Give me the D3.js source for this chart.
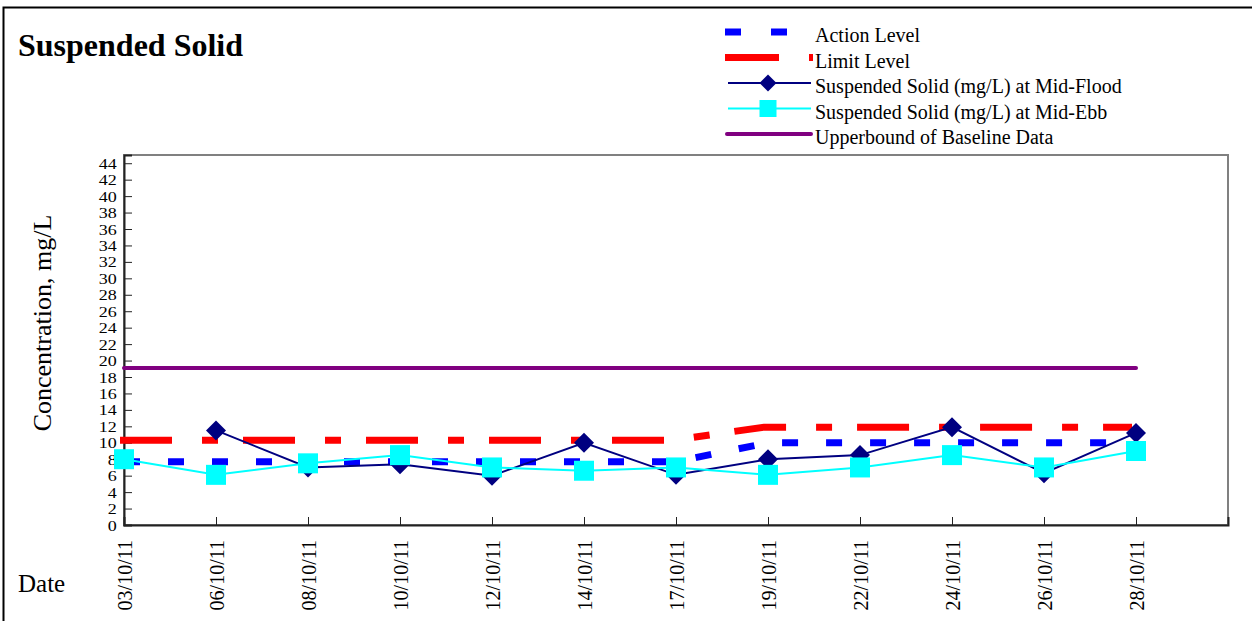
<!DOCTYPE html>
<html>
<head>
<meta charset="utf-8">
<script src="https://cdn.jsdelivr.net/npm/d3@7"></script>
<style>
  body { margin: 0; background: #fff; }
  text { font-family: "Liberation Serif", "DejaVu Serif", serif; fill: #000; }
</style>
</head>
<body>
<div id="chart"></div>
<script>
// Data
const dates = ['03/10/11', '06/10/11', '08/10/11', '10/10/11', '12/10/11', '14/10/11',
  '17/10/11', '19/10/11', '22/10/11', '24/10/11', '26/10/11', '28/10/11'];
const actionLevel = [7.7, 7.7, 7.7, 7.7, 7.7, 7.7, 7.7, 10.0, 10.0, 10.0, 10.0, 10.0];
const limitLevel = [10.3, 10.3, 10.3, 10.3, 10.3, 10.3, 10.3, 11.9, 11.9, 11.9, 11.9, 11.9];
const midFlood = [null, 11.5, 7.0, 7.4, 6.0, 10.0, 6.1, 8.0, 8.5, 11.9, 6.3, 11.2];
const midEbb = [8.0, 6.1, 7.5, 8.5, 7.0, 6.6, 7.0, 6.1, 7.0, 8.5, 7.0, 9.0];
const upperBound = [19.1, 19.1, 19.1, 19.1, 19.1, 19.1, 19.1, 19.1, 19.1, 19.1, 19.1, 19.1];
const yTicks = d3.range(0, 45, 2);

const W = 1252, H = 621;
const plot = { left: 124, right: 1228, top: 155, bottom: 525 };

const svg = d3.select('#chart').append('svg')
  .attr('width', W).attr('height', H);

// outer frame (top + left only)
svg.append('path')
  .attr('d', `M3.5,${H} V7.5 H${W}`)
  .attr('fill', 'none').attr('stroke', '#000').attr('stroke-width', 2);

// scales: 12 dates plus one empty slot at the end
const x = d3.scaleLinear().domain([0, dates.length]).range([plot.left, plot.right]);
const y = d3.scaleLinear().domain([0, 45]).range([plot.bottom, plot.top]);

// plot frame
svg.append('rect')
  .attr('x', plot.left).attr('y', plot.top)
  .attr('width', plot.right - plot.left).attr('height', plot.bottom - plot.top)
  .attr('fill', 'none').attr('stroke', '#808080').attr('stroke-width', 2);

// axes
const yAxis = d3.axisLeft(y).tickValues(yTicks).tickSize(-8);
const gy = svg.append('g').attr('transform', `translate(${plot.left},0)`).call(yAxis);
gy.select('.domain').attr('stroke', '#222').attr('stroke-width', 2);
gy.selectAll('.tick line').attr('stroke', '#222');
gy.selectAll('.tick text')
  .attr('font-size', 15)
  .attr('fill', '#222')
  .attr('x', -6)
  .attr('dy', '0.34em')
  .attr('transform', 'scale(1.2,1)');

const xAxis = d3.axisBottom(x)
  .tickValues(d3.range(0, dates.length + 1))
  .tickSize(-8)
  .tickFormat(i => dates[i] || '');
const gx = svg.append('g').attr('transform', `translate(0,${plot.bottom})`).call(xAxis);
gx.select('.domain').attr('stroke', '#222').attr('stroke-width', 2);
gx.selectAll('.tick line').attr('stroke', '#222');
gx.selectAll('.tick text')
  .attr('font-size', 20)
  .attr('fill', '#222')
  .attr('text-anchor', 'end')
  .attr('transform', 'rotate(-90)')
  .attr('x', -15)
  .attr('y', 0)
  .attr('dy', '0.35em');

// axis titles and chart title
svg.append('text')
  .attr('x', 18).attr('y', 56)
  .attr('font-size', 32).attr('font-weight', 'bold')
  .text('Suspended Solid');

svg.append('text')
  .attr('transform', `translate(51,${(213 + 433) / 2}) rotate(-90)`)
  .attr('text-anchor', 'middle')
  .attr('font-size', 26)
  .text('Concentration, mg/L');

svg.append('text')
  .attr('x', 18).attr('y', 592)
  .attr('font-size', 25)
  .text('Date');

// series
const line = d3.line()
  .defined(d => d != null)
  .x((d, i) => x(i))
  .y(d => y(d));

svg.append('path').datum(actionLevel)
  .attr('d', line).attr('fill', 'none')
  .attr('stroke', '#0000ff').attr('stroke-width', 7)
  .attr('stroke-dasharray', '16,28');

svg.append('path').datum(limitLevel)
  .attr('d', line).attr('fill', 'none')
  .attr('stroke', '#ff0000').attr('stroke-width', 7)
  .attr('stroke-dasharray', '52,30,16,25')
  .attr('transform', 'translate(-4,0)');

svg.append('path').datum(upperBound)
  .attr('d', line).attr('fill', 'none')
  .attr('stroke', '#800080').attr('stroke-width', 4)
  .attr('stroke-linecap', 'round');

svg.append('path').datum(midFlood)
  .attr('d', line).attr('fill', 'none')
  .attr('stroke', '#000080').attr('stroke-width', 2);

svg.selectAll('.flood-pt')
  .data(midFlood.map((v, i) => ({ v, i })).filter(d => d.v != null))
  .enter().append('path')
  .attr('class', 'flood-pt')
  .attr('d', 'M0,-10 L10,0 L0,10 L-10,0 Z')
  .attr('transform', d => `translate(${x(d.i)},${y(d.v)})`)
  .attr('fill', '#000080');

svg.append('path').datum(midEbb)
  .attr('d', line).attr('fill', 'none')
  .attr('stroke', '#00ffff').attr('stroke-width', 2);

svg.selectAll('.ebb-pt')
  .data(midEbb.map((v, i) => ({ v, i })))
  .enter().append('rect')
  .attr('class', 'ebb-pt')
  .attr('x', d => x(d.i) - 10).attr('y', d => y(d.v) - 10)
  .attr('width', 20).attr('height', 20)
  .attr('fill', '#00ffff');

// legend
const legendItems = [
  { label: 'Action Level', type: 'action' },
  { label: 'Limit Level', type: 'limit' },
  { label: 'Suspended Solid (mg/L) at Mid-Flood', type: 'flood' },
  { label: 'Suspended Solid (mg/L) at Mid-Ebb', type: 'ebb' },
  { label: 'Upperbound of Baseline Data', type: 'upper' }
];
const lg = svg.append('g').attr('transform', 'translate(725,32)');
const row = lg.selectAll('g').data(legendItems).enter().append('g')
  .attr('transform', (d, i) => `translate(0,${i * 25.5})`);

row.each(function(d) {
  const g = d3.select(this);
  if (d.type === 'action') {
    g.append('line').attr('x1', 0).attr('x2', 62)
      .attr('stroke', '#0000ff').attr('stroke-width', 7).attr('stroke-dasharray', '16,30');
  } else if (d.type === 'limit') {
    g.append('line').attr('x1', 0).attr('x2', 88)
      .attr('stroke', '#ff0000').attr('stroke-width', 7).attr('stroke-dasharray', '54,30,16,27');
  } else if (d.type === 'flood') {
    g.append('line').attr('x1', 3).attr('x2', 86)
      .attr('stroke', '#000080').attr('stroke-width', 2);
    g.append('path').attr('d', 'M0,-8.5 L8.5,0 L0,8.5 L-8.5,0 Z')
      .attr('transform', 'translate(43,0)').attr('fill', '#000080');
  } else if (d.type === 'ebb') {
    g.append('line').attr('x1', 3).attr('x2', 86)
      .attr('stroke', '#00ffff').attr('stroke-width', 2);
    g.append('rect').attr('x', 43 - 8.5).attr('y', -8.5)
      .attr('width', 17).attr('height', 17).attr('fill', '#00ffff');
  } else {
    g.append('line').attr('x1', 2).attr('x2', 86)
      .attr('stroke', '#800080').attr('stroke-width', 4).attr('stroke-linecap', 'round');
  }
  g.append('text').attr('x', 90).attr('y', 4).attr('dy', '0.32em')
    .attr('font-size', 20).attr('fill', '#222').text(d.label);
});
</script>
</body>
</html>
